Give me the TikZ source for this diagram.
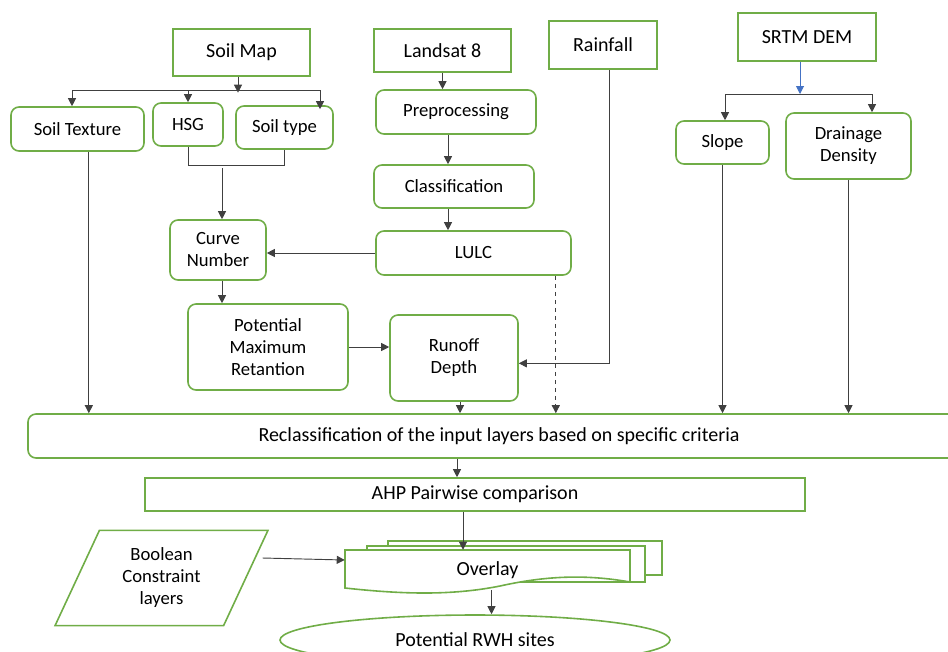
\documentclass[tikz,border=0pt]{standalone}
\usepackage{fontspec}
\setmainfont{Carlito}
\usetikzlibrary{arrows.meta,shapes.geometric}
\definecolor{boxgreen}{RGB}{112,173,71}
\definecolor{demblue}{RGB}{68,114,196}

\begin{document}
\begin{tikzpicture}[
  x=0.75pt, y=-0.75pt,
  every node/.style={font=\fontsize{14}{16.5}\selectfont, align=center, inner sep=0pt},
  wh/.style 2 args={minimum width=#1*0.75pt, minimum height=#2*0.75pt},
  databox/.style={draw=boxgreen, line width=1.2pt, fill=white, font=\fontsize{15}{18}\selectfont},
  stepbox/.style={draw=boxgreen, line width=1.2pt, rounded corners=6pt, fill=white},
  docline/.style={draw=boxgreen, line width=1.2pt, fill=white},
  flow/.style={-{Triangle[length=6pt,width=6pt]}, line width=0.7pt, black!75},
  link/.style={line width=0.7pt, black!75}
]
  \useasboundingbox (0,0) rectangle (948,651);
  \clip (0,0) rectangle (948,651);

  % input data
  \node[databox, wh={137}{47}] (soilmap) at (241.5,52.5) {Soil Map};
  \node[databox, wh={137}{43}] (landsat) at (442.5,50.5) {Landsat 8};
  \node[databox, wh={108}{48}] (rain)    at (603,45)     {Rainfall};
  \node[databox, wh={138}{48}] (srtm)    at (807,37)     {SRTM DEM};

  % derived layers
  \node[stepbox, wh={133}{44}] (texture) at (77.5,129)   {Soil Texture};
  \node[stepbox, wh={70}{43}]  (hsg)     at (188,124.5)  {HSG};
  \node[stepbox, wh={97}{43}]  (stype)   at (284.5,127.5) {Soil type};
  \node[stepbox, wh={160}{44}] (prep)    at (456,112)    {Preprocessing};
  \node[stepbox, wh={160}{43}] (classif) at (454,186.5)  {Classification};
  \node[stepbox, wh={195}{44}] (lulc)    at (473.5,253)  {LULC};
  \node[stepbox, wh={96}{60}]  (cn)      at (218,250)    {Curve\\Number};
  \node[stepbox, wh={160}{86}] (pmr)     at (268,347)    {Potential\\Maximum\\Retantion};
  \node[stepbox, wh={128}{86}] (runoff)  at (454,358)    {Runoff\\Depth};
  \node[stepbox, wh={93}{43}]  (slope)   at (722.5,142.5) {Slope};
  \node[stepbox, wh={125}{66}] (drain)   at (848.5,146)  {Drainage\\Density};

  % analysis
  \node[stepbox, wh={942}{44}, font=\fontsize{15}{18}\selectfont] (reclass) at (499,436)
    {Reclassification of the input layers based on specific criteria};
  \node[databox, wh={660}{33}] (ahp) at (475,494.5) {AHP Pairwise comparison};

  \draw[docline] (388,541) rectangle (662,575);
  \draw[docline] (367,546) rectangle (645,582);
  \draw[docline] (345,550) -- (630,550) -- (630,582)
    .. controls (585,574) and (545,576) .. (500,586)
    .. controls (450,596) and (400,594) .. (345,588) -- cycle;
  \node[wh={285}{40}, font=\fontsize{15}{18}\selectfont] (overlay) at (487.5,570) {Overlay};

  \node[draw=boxgreen, line width=1.2pt, trapezium, trapezium left angle=65,
        trapezium right angle=115, wh={213}{80}] (bool) at (161.5,578)
    {Boolean\\Constraint\\layers};
  \node[draw=boxgreen, line width=1.2pt, ellipse, wh={390}{50},
        font=\fontsize{15}{18}\selectfont] (rwh) at (475,640) {Potential RWH sites};

  % soil map branch
  \coordinate (smhub)   at (238,90);
  \coordinate (smleft)  at (72,90);
  \coordinate (smright) at (320,90);
  \draw[flow] (soilmap.south -| smhub) -- ([yshift=-2pt]smhub);
  \draw[link] (smleft) -- (smright);
  \draw[flow] (smleft) -- (smleft |- texture.north);
  \draw[flow] (hsg.north |- smhub) -- (hsg.north);
  \draw[flow] (smright) -- ([yshift=-3pt]smright |- stype.north);
  \draw[link] (hsg.south) -- ++(0,19) -| (stype.south);
  \coordinate (soiljoin) at (222,168);
  \draw[flow] (soiljoin) -- (soiljoin |- cn.north);

  % landsat branch
  \draw[flow] (landsat.south) -- (landsat.south |- prep.north);
  \draw[flow] ([xshift=-6pt]prep.south) -- ([xshift=-6pt]prep.south |- classif.north);
  \draw[flow] ([xshift=-4.5pt]classif.south) -- ([xshift=-4.5pt]classif.south |- lulc.north);
  \draw[flow] (lulc.west) -- (lulc.west -| cn.east);
  \draw[flow] ([xshift=3pt]cn.south) -- ([xshift=3pt]cn.south |- pmr.north);
  \draw[flow] (pmr.east) -- (pmr.east -| runoff.west);
  \draw[flow] ([xshift=5pt]rain.south) |- ([yshift=-4pt]runoff.east);

  % srtm branch
  \coordinate (demhub)   at (800,94);
  \coordinate (demleft)  at (725,94);
  \coordinate (demright) at (872,94);
  \draw[flow, demblue] (srtm.south -| demhub) -- (demhub);
  \draw[link] (demleft) -- (demright);
  \draw[flow] (demleft) -- (demleft |- slope.north);
  \draw[flow] (demright) -- (demright |- drain.north);

  % into reclassification
  \draw[flow] ([xshift=8.5pt]texture.south) -- ([xshift=8.5pt]texture.south |- reclass.north);
  \draw[flow] ([xshift=4.5pt]runoff.south) -- ([xshift=4.5pt]runoff.south |- reclass.north);
  \draw[flow, dashed] ([xshift=-12pt]lulc.south east) -- ([xshift=-12pt]lulc.south east |- reclass.north);
  \draw[flow] (slope.south) -- (slope.south |- reclass.north);
  \draw[flow] (drain.south) -- (drain.south |- reclass.north);

  % weighting and overlay
  \draw[flow] ([xshift=-13.5pt]ahp.north |- reclass.south) -- ([xshift=-13.5pt]ahp.north);
  \draw[flow] ([xshift=-9pt]ahp.south) -- ([xshift=-9pt]ahp.south |- overlay.north);
  \draw[flow] ([xshift=12pt,yshift=15pt]bool.east) -- ([yshift=7.5pt]overlay.west);
  \draw[flow] ([xshift=3pt]overlay.south) -- ([xshift=3pt]overlay.south |- rwh.north);
\end{tikzpicture}
\end{document}
